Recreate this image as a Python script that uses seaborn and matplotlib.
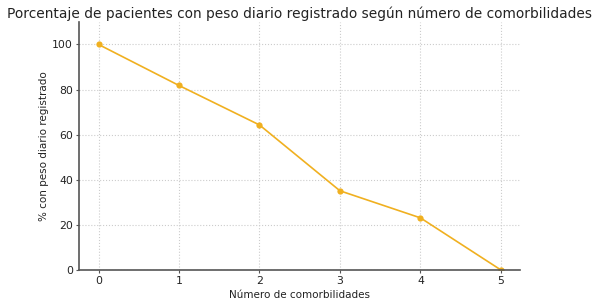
import matplotlib
matplotlib.use("Agg")
import matplotlib.pyplot as plt
import seaborn as sns
import pandas as pd

comorbilidades = [0, 1, 2, 3, 4, 5]
porcentaje = [100, 81.8, 64.3, 35.1, 23.1, 0]

df = pd.DataFrame({"x": comorbilidades, "y": porcentaje})

sns.set_style("whitegrid")
plt.rcParams['font.family'] = ['DejaVu Sans']

fig, ax = plt.subplots(figsize=(6, 3.04), dpi=100)
sns.lineplot(data=df, x="x", y="y", marker="o", color="#f0b020", linewidth=1.2,
             markersize=4.5, markeredgewidth=0, ax=ax)

ax.set_ylim(0, 110)
ax.set_xlim(-0.24, 5.24)
ax.set_xticks(comorbilidades)
ax.set_yticks([0, 20, 40, 60, 80, 100])
ax.grid(True, linestyle=':', color='#cccccc', linewidth=0.8)
for s in ['top', 'right']:
    ax.spines[s].set_visible(False)
for s in ['left', 'bottom']:
    ax.spines[s].set_color('#555555')
    ax.spines[s].set_linewidth(1.2)
ax.tick_params(axis='both', which='both', length=2.5, width=0.8, pad=2, color='#555555',
               labelsize=7.8, labelcolor='#222222', left=True, bottom=True)
ax.set_title("Porcentaje de pacientes con peso diario registrado según número de comorbilidades",
             fontsize=9.9, color='#222222', pad=3)
ax.set_xlabel("Número de comorbilidades", fontsize=7.5, color='#222222', labelpad=3)
ax.set_ylabel("% con peso diario registrado", fontsize=7.5, color='#222222', labelpad=2)

fig.subplots_adjust(left=0.132, right=0.867, top=0.928, bottom=0.112)
fig.savefig("out.png", dpi=100)
